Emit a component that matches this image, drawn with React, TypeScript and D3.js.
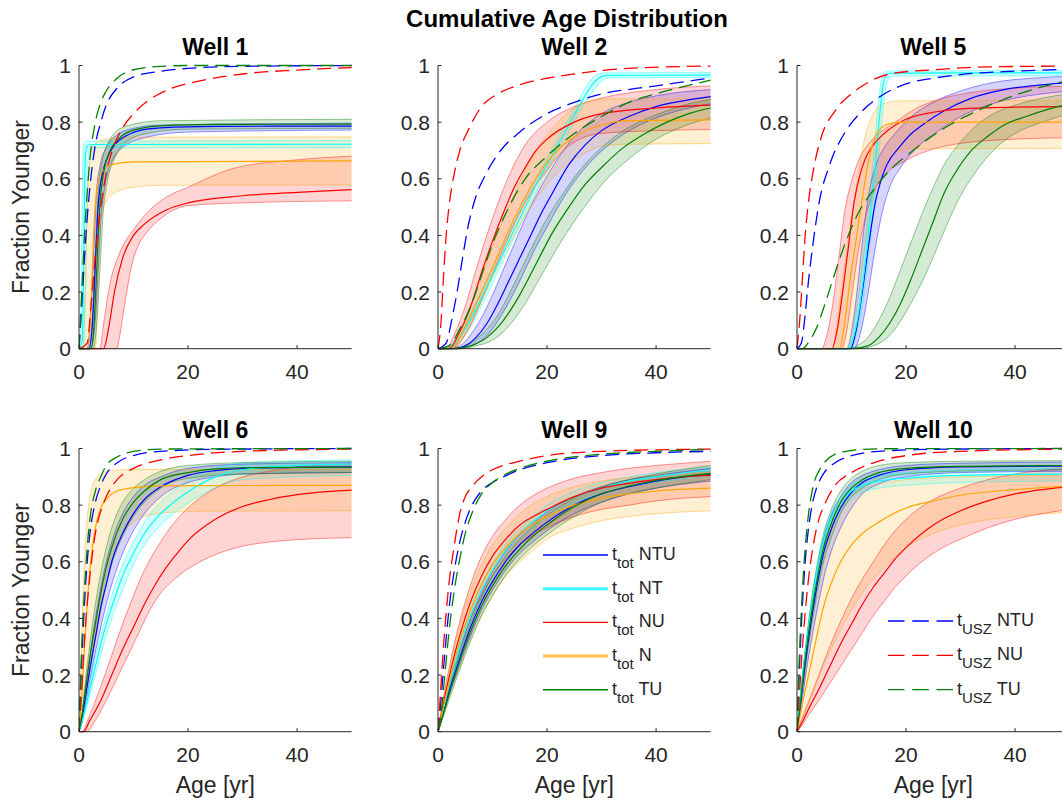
import React from "react";
import * as d3 from "d3";

type Pt = [number, number];
type Band = { mid: Pt[]; lo: Pt[]; hi: Pt[] };

const MAIN_TITLE = "Cumulative Age Distribution";
const WELLS = ["Well 1", "Well 2", "Well 5", "Well 6", "Well 9", "Well 10"];
const AGE_TICKS = [0, 20, 40];
const FRAC_TICKS = [0, 0.2, 0.4, 0.6, 0.8, 1];
const SOLID_NAMES = ["NTU", "NT", "NU", "N", "TU"];
const DASHED_NAMES = ["NTU", "NU", "TU"];
const SOLID_COLORS = ["#0000FF", "#00FFFF", "#FF0000", "#FFA500", "#008000"];
const DASHED_COLORS = ["#0000FF", "#FF0000", "#008000"];

// ---------------- Well 1 ----------------
const W1_NTU: Band = {
  mid: [[0,0],[1.8,0],[2.5,0.1],[3,0.3],[3.5,0.5],[4.2,0.61],[5,0.665],[6.5,0.72],[8.5,0.75],[11,0.77],[15,0.78],[25,0.785],[50,0.786]],
  hi: [[0,0],[1.5,0],[2.1,0.12],[2.7,0.35],[3.2,0.55],[3.9,0.65],[5,0.71],[7,0.755],[10,0.778],[15,0.79],[50,0.796]],
  lo: [[0,0],[2.2,0],[3,0.1],[3.6,0.3],[4.1,0.47],[4.8,0.58],[6,0.66],[8,0.71],[12,0.745],[20,0.765],[50,0.772]],
};
const W1_NT: Band = {
  mid: [[0,0],[0.6,0.03],[0.9,0.35],[1.1,0.65],[1.4,0.712],[2,0.721],[50,0.722]],
  hi: [[0,0],[0.3,0.05],[0.5,0.4],[0.7,0.68],[1.0,0.728],[1.5,0.733],[50,0.735]],
  lo: [[0,0],[1.0,0.02],[1.3,0.3],[1.6,0.62],[1.9,0.7],[2.5,0.709],[50,0.71]],
};
const W1_NU: Band = {
  mid: [[0,0],[4.5,0],[5.5,0.08],[6.5,0.2],[8,0.32],[10,0.4],[12,0.44],[16,0.49],[20,0.515],[30,0.54],[40,0.552],[50,0.562]],
  hi: [[0,0],[3.8,0],[4.6,0.1],[5.7,0.23],[7.5,0.34],[10,0.42],[13,0.49],[16,0.535],[20,0.57],[28,0.635],[40,0.667],[50,0.68]],
  lo: [[0,0],[6.9,0],[7.6,0.06],[8.5,0.17],[9.5,0.28],[11,0.37],[12,0.4],[15,0.46],[20,0.505],[30,0.515],[50,0.522]],
};
const W1_N: Band = {
  mid: [[0,0],[1.7,0],[2.2,0.15],[2.8,0.45],[3.4,0.58],[4.2,0.625],[6,0.65],[10,0.66],[50,0.663]],
  hi: [[0,0],[0.7,0],[1.1,0.2],[1.6,0.55],[2.2,0.69],[3,0.725],[5,0.74],[10,0.747],[50,0.748]],
  lo: [[0,0],[3,0],[3.5,0.2],[4,0.45],[5,0.52],[7,0.555],[10,0.57],[15,0.577],[50,0.578]],
};
const W1_TU: Band = {
  mid: [[0,0],[2.2,0],[2.8,0.1],[3.3,0.3],[3.8,0.5],[4.5,0.62],[5.5,0.69],[7.5,0.745],[10,0.772],[15,0.787],[25,0.792],[50,0.793]],
  hi: [[0,0],[1.9,0],[2.5,0.12],[3,0.35],[3.5,0.55],[4.2,0.66],[5.2,0.72],[7,0.77],[10,0.793],[15,0.805],[50,0.81]],
  lo: [[0,0],[2.6,0],[3.3,0.1],[3.9,0.3],[4.4,0.47],[5.2,0.59],[6.5,0.67],[9,0.735],[13,0.762],[20,0.775],[50,0.778]],
};
const W1_USZ_NTU: Pt[] = [[0,0],[0.5,0.15],[1,0.32],[1.5,0.46],[2,0.57],[3,0.72],[4,0.8],[5,0.86],[7,0.92],[10,0.96],[15,0.98],[20,0.99],[30,0.997],[50,1]];
const W1_USZ_NU: Pt[] = [[0,0],[1.5,0.02],[2.2,0.15],[3,0.33],[4,0.5],[5,0.62],[6.5,0.72],[8,0.78],[10,0.83],[13,0.88],[17,0.92],[22,0.945],[30,0.97],[40,0.984],[50,0.993]];
const W1_USZ_TU: Pt[] = [[0,0],[0.5,0.2],[1,0.4],[1.5,0.55],[2,0.67],[3,0.8],[4,0.87],[5,0.91],[7,0.955],[10,0.985],[15,0.997],[20,1],[50,1]];

// ---------------- Well 2 ----------------
const W2_NTU: Band = {
  mid: [[0,0],[3,0],[5,0.01],[7,0.04],[9,0.09],[11,0.16],[13,0.24],[15,0.32],[17,0.4],[19,0.48],[21,0.55],[24,0.65],[27,0.72],[30,0.77],[35,0.82],[40,0.855],[45,0.875],[50,0.89]],
  hi: [[0,0],[2,0],[4,0.01],[6,0.05],[8,0.11],[10,0.19],[12,0.28],[14,0.37],[16,0.46],[18,0.54],[20,0.61],[23,0.7],[26,0.77],[30,0.83],[35,0.87],[40,0.893],[50,0.915]],
  lo: [[0,0],[4,0],[6,0.01],[8,0.03],[10,0.07],[12,0.13],[14,0.2],[16,0.28],[18,0.36],[20,0.43],[22,0.5],[25,0.59],[28,0.66],[32,0.73],[36,0.78],[40,0.815],[45,0.845],[50,0.865]],
};
const W2_NT: Band = {
  mid: [[0,0],[2,0],[4,0.04],[7,0.14],[10,0.26],[13,0.38],[16,0.5],[18,0.58],[20,0.65],[22,0.72],[24,0.79],[26,0.86],[28,0.925],[29.7,0.958],[31,0.965],[50,0.966]],
  hi: [[0,0],[1.5,0],[3.3,0.04],[6.3,0.14],[9.3,0.26],[12.3,0.38],[15.3,0.5],[17.3,0.58],[19.3,0.65],[21.3,0.72],[23.3,0.79],[25.3,0.86],[27.3,0.93],[29,0.966],[30.3,0.974],[50,0.975]],
  lo: [[0,0],[2.5,0],[4.7,0.04],[7.7,0.14],[10.7,0.26],[13.7,0.38],[16.7,0.5],[18.7,0.58],[20.7,0.65],[22.7,0.72],[24.7,0.79],[26.7,0.86],[28.7,0.915],[30.4,0.95],[31.7,0.957],[50,0.958]],
};
const W2_NU: Band = {
  mid: [[0,0],[2,0],[4,0.06],[6,0.15],[8,0.27],[10,0.38],[12,0.48],[14,0.57],[16,0.64],[18,0.7],[20,0.74],[25,0.8],[30,0.83],[40,0.85],[50,0.86]],
  hi: [[0,0],[1.5,0],[3,0.05],[5,0.15],[7,0.28],[10,0.46],[13,0.61],[16,0.72],[20,0.8],[25,0.855],[30,0.885],[40,0.915],[50,0.928]],
  lo: [[0,0],[2.5,0],[5,0.05],[8,0.17],[11,0.31],[14,0.44],[17,0.55],[20,0.63],[23,0.7],[26,0.74],[30,0.76],[40,0.77],[50,0.774]],
};
const W2_N: Band = {
  mid: [[0,0],[2.5,0],[5,0.08],[8,0.2],[11,0.33],[14,0.46],[17,0.57],[20,0.66],[23,0.72],[26,0.76],[30,0.79],[35,0.805],[50,0.808]],
  hi: [[0,0],[2,0],[4,0.06],[7,0.2],[10,0.36],[13,0.5],[16,0.63],[19,0.73],[22,0.8],[25,0.85],[28,0.875],[32,0.882],[50,0.883]],
  lo: [[0,0],[3,0],[5,0.05],[8,0.17],[11,0.29],[14,0.4],[17,0.5],[20,0.58],[23,0.64],[26,0.68],[30,0.715],[35,0.722],[50,0.724]],
};
const W2_TU: Band = {
  mid: [[0,0],[3,0],[6,0.01],[9,0.04],[12,0.1],[15,0.19],[18,0.3],[21,0.41],[24,0.5],[27,0.58],[30,0.64],[34,0.71],[38,0.76],[42,0.8],[46,0.83],[50,0.85]],
  hi: [[0,0],[2,0],[5,0.01],[8,0.05],[11,0.12],[14,0.23],[17,0.35],[20,0.46],[23,0.55],[26,0.63],[30,0.71],[34,0.77],[38,0.81],[42,0.84],[46,0.865],[50,0.88]],
  lo: [[0,0],[4,0],[7,0.01],[10,0.03],[13,0.08],[16,0.16],[19,0.26],[22,0.36],[25,0.45],[28,0.53],[31,0.6],[35,0.67],[40,0.74],[45,0.785],[50,0.815]],
};
const W2_USZ_NTU: Pt[] = [[0,0],[1.5,0.02],[2.5,0.1],[3.5,0.2],[4.5,0.32],[5.5,0.43],[7,0.54],[8.6,0.61],[11.5,0.7],[15,0.765],[20,0.83],[25,0.87],[30,0.9],[36,0.918],[40,0.928],[45,0.942],[50,0.956]];
const W2_USZ_NU: Pt[] = [[0,0],[0.5,0.08],[1,0.25],[1.5,0.4],[2,0.5],[3,0.62],[4,0.7],[5.5,0.77],[8,0.855],[11,0.9],[15,0.932],[20,0.955],[25,0.97],[35,0.99],[50,0.998]];
const W2_USZ_TU: Pt[] = [[0,0],[2,0.01],[4,0.07],[6,0.15],[8,0.26],[10,0.37],[13,0.5],[16,0.6],[20,0.68],[25,0.76],[30,0.82],[35,0.87],[40,0.9],[50,0.948]];

// ---------------- Well 5 ----------------
const W5_NTU: Band = {
  mid: [[0,0],[9.8,0],[10.8,0.06],[11.9,0.19],[13.1,0.36],[14.4,0.52],[15.5,0.6],[16.5,0.65],[18.7,0.71],[21,0.76],[23,0.79],[27,0.84],[32,0.885],[38,0.915],[44,0.93],[50,0.94]],
  hi: [[0,0],[9.2,0],[10,0.06],[11,0.2],[12,0.38],[13.2,0.55],[14.5,0.65],[16,0.71],[18,0.76],[21,0.82],[25,0.87],[30,0.91],[36,0.94],[43,0.955],[50,0.962]],
  lo: [[0,0],[10.5,0],[11.7,0.06],[13,0.19],[14.3,0.35],[15.5,0.47],[17,0.57],[19,0.64],[22,0.71],[26,0.77],[30,0.82],[35,0.86],[40,0.885],[45,0.9],[50,0.91]],
};
const W5_NT: Band = {
  mid: [[0,0],[9.5,0],[10.5,0.05],[11.5,0.15],[12.5,0.3],[13.5,0.48],[14.5,0.68],[15.3,0.85],[16,0.95],[16.7,0.971],[17.5,0.973],[50,0.974]],
  hi: [[0,0],[9.1,0],[10.1,0.05],[11.1,0.16],[12.1,0.31],[13.1,0.5],[14.1,0.7],[14.9,0.87],[15.6,0.96],[16.3,0.979],[17,0.981],[50,0.982]],
  lo: [[0,0],[9.9,0],[10.9,0.05],[11.9,0.14],[12.9,0.29],[13.9,0.46],[14.9,0.66],[15.7,0.83],[16.4,0.93],[17.1,0.96],[18,0.963],[50,0.964]],
};
const W5_NU: Band = {
  mid: [[0,0],[6.4,0],[7.5,0.08],[8.5,0.22],[9.5,0.37],[10.5,0.52],[11.5,0.61],[12.5,0.67],[14,0.72],[16,0.76],[20,0.81],[25,0.835],[30,0.847],[40,0.853],[50,0.855]],
  hi: [[0,0],[4.5,0],[5.5,0.05],[6.5,0.15],[7.6,0.31],[8.8,0.49],[10,0.59],[11,0.65],[13,0.72],[15,0.76],[18,0.8],[22,0.85],[26,0.88],[32,0.905],[40,0.92],[50,0.927]],
  lo: [[0,0],[8.2,0],[9,0.05],[10,0.18],[11.3,0.35],[12.5,0.46],[14,0.55],[16,0.61],[20,0.665],[25,0.705],[30,0.725],[40,0.74],[50,0.745]],
};
const W5_N: Band = {
  mid: [[0,0],[7.8,0],[8.8,0.1],[9.8,0.25],[10.8,0.38],[11.9,0.52],[13,0.65],[14,0.73],[15,0.77],[17,0.795],[20,0.8],[50,0.8]],
  hi: [[0,0],[6.4,0],[7.4,0.1],[8.8,0.31],[9.8,0.44],[10.7,0.55],[11.6,0.66],[12.5,0.75],[13.5,0.81],[14.5,0.845],[16,0.865],[18,0.875],[50,0.877]],
  lo: [[0,0],[9,0],[10,0.05],[11,0.15],[12,0.3],[13,0.43],[14,0.53],[15.5,0.63],[17,0.675],[19,0.7],[22,0.706],[50,0.707]],
};
const W5_TU: Band = {
  mid: [[0,0],[10,0],[13,0.01],[15,0.04],[17,0.09],[19,0.16],[21,0.25],[23,0.35],[25,0.45],[27,0.55],[29,0.62],[32,0.7],[35,0.75],[38,0.79],[42,0.82],[46,0.845],[50,0.865]],
  hi: [[0,0],[9,0],[11,0.01],[13,0.04],[15,0.1],[17,0.18],[19,0.28],[21,0.38],[23,0.48],[25,0.57],[27,0.65],[30,0.73],[33,0.79],[36,0.83],[40,0.86],[45,0.885],[50,0.9]],
  lo: [[0,0],[11,0],[14,0.01],[16,0.03],[18,0.07],[20,0.13],[22,0.2],[24,0.28],[26,0.37],[28,0.46],[30,0.54],[33,0.63],[36,0.7],[40,0.76],[45,0.8],[50,0.83]],
};
const W5_USZ_NTU: Pt[] = [[0,0],[0.8,0.02],[1.5,0.12],[2,0.22],[3,0.38],[4,0.51],[6,0.65],[9,0.77],[12,0.84],[15.6,0.895],[20,0.935],[25,0.955],[30,0.968],[40,0.98],[50,0.987]];
const W5_USZ_NU: Pt[] = [[0,0],[0.5,0.1],[1,0.25],[1.5,0.4],[2,0.5],[3,0.63],[4.5,0.75],[7,0.84],[10,0.9],[13,0.94],[17,0.97],[25,0.985],[35,0.995],[50,0.998]];
const W5_USZ_TU: Pt[] = [[0,0],[1,0],[2,0.02],[3.5,0.07],[5,0.15],[7,0.27],[9,0.38],[11,0.47],[14,0.56],[17,0.63],[20,0.68],[24,0.74],[28,0.79],[32,0.83],[36,0.865],[40,0.895],[45,0.925],[50,0.948]];

// ---------------- Well 6 ----------------
const W6_NTU: Band = {
  mid: [[0,0],[0.5,0.04],[1,0.1],[2,0.22],[3,0.33],[4,0.44],[5,0.52],[6,0.6],[8,0.7],[10,0.77],[12,0.82],[15,0.865],[20,0.905],[25,0.922],[30,0.93],[50,0.935]],
  hi: [[0,0],[0.5,0.05],[1,0.13],[2,0.27],[3,0.4],[4,0.51],[5,0.6],[6,0.67],[8,0.77],[10,0.83],[12,0.87],[15,0.9],[20,0.93],[30,0.945],[50,0.95]],
  lo: [[0,0],[0.5,0.03],[1,0.08],[2,0.18],[3,0.28],[4,0.37],[5,0.45],[6,0.52],[8,0.63],[10,0.71],[12,0.77],[15,0.83],[20,0.88],[25,0.9],[30,0.91],[50,0.915]],
};
const W6_NT: Band = {
  mid: [[0,0],[0.5,0.03],[1,0.07],[2,0.15],[3,0.23],[4,0.31],[5,0.38],[6,0.44],[8,0.55],[10,0.63],[12,0.7],[15,0.77],[18,0.82],[21,0.86],[25,0.9],[30,0.925],[40,0.94],[50,0.945]],
  hi: [[0,0],[1,0.08],[2,0.17],[3,0.26],[4,0.34],[5,0.41],[6,0.48],[8,0.59],[10,0.67],[12,0.74],[15,0.81],[18,0.86],[21,0.9],[25,0.93],[30,0.95],[50,0.96]],
  lo: [[0,0],[1,0.06],[2,0.13],[3,0.2],[4,0.27],[5,0.34],[6,0.4],[8,0.5],[10,0.59],[12,0.66],[15,0.73],[18,0.78],[21,0.82],[25,0.86],[30,0.89],[50,0.905]],
};
const W6_NU: Band = {
  mid: [[0,0],[0.8,0],[2,0.04],[4,0.11],[6,0.2],[8,0.29],[10,0.37],[12,0.45],[14,0.52],[16,0.58],[18,0.63],[20,0.675],[25,0.75],[30,0.795],[35,0.82],[40,0.837],[50,0.853]],
  hi: [[0,0],[0.5,0],[2,0.06],[4,0.16],[6,0.27],[8,0.38],[10,0.48],[12,0.57],[14,0.64],[16,0.7],[18,0.75],[20,0.79],[25,0.86],[30,0.9],[35,0.92],[40,0.935],[50,0.945]],
  lo: [[0,0],[1.4,0],[3,0.04],[5,0.11],[7,0.19],[9,0.27],[11,0.35],[13,0.43],[15,0.49],[17,0.53],[20,0.575],[25,0.625],[30,0.655],[35,0.67],[40,0.678],[50,0.685]],
};
const W6_N: Band = {
  mid: [[0,0],[0.5,0.12],[1,0.3],[1.5,0.45],[2,0.57],[3,0.72],[4,0.79],[5,0.82],[7,0.85],[10,0.862],[15,0.868],[50,0.87]],
  hi: [[0,0],[0.3,0.2],[0.6,0.4],[1,0.6],[1.5,0.75],[2,0.83],[3,0.89],[4,0.91],[6,0.922],[10,0.926],[50,0.927]],
  lo: [[0,0],[0.5,0.04],[1,0.1],[2,0.22],[3,0.35],[4,0.46],[5,0.55],[6,0.62],[8,0.7],[10,0.74],[13,0.765],[17,0.775],[25,0.779],[50,0.78]],
};
const W6_TU: Band = {
  mid: [[0,0],[0.5,0.05],[1,0.12],[2,0.26],[3,0.38],[4,0.49],[5,0.58],[6,0.65],[8,0.75],[10,0.81],[12,0.85],[15,0.89],[20,0.915],[25,0.928],[30,0.932],[50,0.934]],
  hi: [[0,0],[0.5,0.06],[1,0.15],[2,0.31],[3,0.45],[4,0.56],[5,0.65],[6,0.72],[8,0.81],[10,0.86],[12,0.89],[15,0.92],[20,0.94],[30,0.95],[50,0.955]],
  lo: [[0,0],[0.5,0.04],[1,0.1],[2,0.22],[3,0.33],[4,0.43],[5,0.52],[6,0.59],[8,0.69],[10,0.76],[12,0.81],[15,0.86],[20,0.895],[30,0.91],[50,0.915]],
};
const W6_USZ_NTU: Pt[] = [[0,0],[0.5,0.25],[1,0.45],[1.5,0.6],[2,0.7],[3,0.81],[4,0.87],[5,0.91],[7,0.95],[10,0.975],[15,0.99],[25,0.997],[50,1]];
const W6_USZ_NU: Pt[] = [[0,0],[0.5,0.15],[1,0.32],[1.5,0.45],[2,0.55],[3,0.7],[4,0.78],[5,0.83],[7,0.89],[10,0.93],[15,0.96],[20,0.975],[30,0.99],[50,0.998]];
const W6_USZ_TU: Pt[] = [[0,0],[0.5,0.3],[1,0.5],[1.5,0.65],[2,0.75],[3,0.85],[4,0.9],[5,0.94],[7,0.97],[10,0.99],[15,0.998],[50,1]];

// ---------------- Well 9 ----------------
const W9_NTU: Band = {
  mid: [[0,0],[1,0.07],[2,0.14],[3,0.2],[4,0.26],[6,0.37],[8,0.46],[10,0.53],[12,0.59],[15,0.66],[18,0.71],[20,0.74],[25,0.8],[30,0.84],[35,0.865],[40,0.885],[50,0.91]],
  hi: [[0,0],[1,0.08],[2,0.155],[3,0.22],[4,0.285],[6,0.4],[8,0.49],[10,0.565],[12,0.625],[15,0.695],[18,0.745],[20,0.775],[25,0.83],[30,0.865],[35,0.89],[40,0.905],[50,0.93]],
  lo: [[0,0],[1,0.06],[2,0.125],[3,0.18],[4,0.235],[6,0.34],[8,0.43],[10,0.5],[12,0.56],[15,0.63],[18,0.68],[20,0.71],[25,0.77],[30,0.81],[35,0.84],[40,0.86],[50,0.885]],
};
const W9_NT: Band = {
  mid: [[0,0],[1,0.08],[2,0.16],[3,0.23],[4,0.3],[6,0.41],[8,0.5],[10,0.57],[12,0.63],[15,0.7],[18,0.75],[20,0.78],[25,0.83],[30,0.86],[35,0.885],[40,0.9],[50,0.925]],
  hi: [[0,0],[1,0.09],[2,0.175],[3,0.25],[4,0.32],[6,0.435],[8,0.525],[10,0.595],[12,0.655],[15,0.72],[18,0.77],[20,0.8],[25,0.85],[30,0.88],[35,0.9],[40,0.915],[50,0.935]],
  lo: [[0,0],[1,0.07],[2,0.145],[3,0.21],[4,0.28],[6,0.385],[8,0.475],[10,0.545],[12,0.605],[15,0.68],[18,0.73],[20,0.76],[25,0.81],[30,0.84],[35,0.865],[40,0.88],[50,0.905]],
};
const W9_NU: Band = {
  mid: [[0,0],[1,0.1],[2,0.19],[3,0.27],[4,0.34],[6,0.46],[8,0.55],[10,0.62],[12,0.67],[15,0.73],[18,0.765],[20,0.785],[25,0.83],[30,0.86],[35,0.877],[40,0.89],[45,0.9],[50,0.905]],
  hi: [[0,0],[1,0.12],[2,0.22],[3,0.31],[4,0.39],[6,0.52],[8,0.62],[10,0.69],[12,0.74],[15,0.8],[18,0.84],[20,0.86],[25,0.895],[30,0.915],[35,0.93],[40,0.94],[50,0.955]],
  lo: [[0,0],[1,0.08],[2,0.16],[3,0.23],[4,0.29],[6,0.4],[8,0.48],[10,0.55],[12,0.6],[15,0.66],[18,0.7],[20,0.72],[25,0.76],[30,0.785],[35,0.8],[40,0.815],[50,0.83]],
};
const W9_N: Band = {
  mid: [[0,0],[1,0.09],[2,0.17],[3,0.25],[4,0.32],[6,0.43],[8,0.52],[10,0.59],[12,0.64],[15,0.7],[18,0.74],[20,0.76],[25,0.8],[30,0.825],[35,0.84],[40,0.85],[50,0.86]],
  hi: [[0,0],[1,0.12],[2,0.22],[3,0.31],[4,0.38],[6,0.5],[8,0.59],[10,0.66],[12,0.71],[15,0.77],[18,0.81],[20,0.83],[25,0.865],[30,0.885],[40,0.905],[50,0.915]],
  lo: [[0,0],[1,0.06],[2,0.12],[3,0.18],[4,0.23],[6,0.33],[8,0.41],[10,0.48],[12,0.54],[15,0.6],[18,0.65],[20,0.68],[25,0.72],[30,0.745],[35,0.76],[40,0.77],[50,0.78]],
};
const W9_TU: Band = {
  mid: [[0,0],[1,0.065],[2,0.13],[3,0.19],[4,0.25],[6,0.355],[8,0.445],[10,0.515],[12,0.575],[15,0.645],[18,0.7],[20,0.73],[25,0.795],[30,0.84],[35,0.867],[40,0.887],[50,0.912]],
  hi: [[0,0],[1,0.075],[2,0.15],[3,0.215],[4,0.275],[6,0.385],[8,0.475],[10,0.55],[12,0.61],[15,0.68],[18,0.735],[20,0.765],[25,0.825],[30,0.865],[35,0.89],[40,0.91],[50,0.94]],
  lo: [[0,0],[1,0.055],[2,0.11],[3,0.165],[4,0.22],[6,0.32],[8,0.41],[10,0.48],[12,0.54],[15,0.61],[18,0.665],[20,0.695],[25,0.76],[30,0.81],[35,0.84],[40,0.86],[50,0.89]],
};
const W9_USZ_NTU: Pt[] = [[0,0],[0.5,0.1],[1,0.22],[1.5,0.33],[2,0.43],[3,0.57],[4,0.67],[5,0.74],[6,0.79],[8,0.85],[10,0.88],[12,0.9],[15,0.925],[20,0.95],[30,0.975],[40,0.985],[50,0.99]];
const W9_USZ_NU: Pt[] = [[0,0],[0.5,0.15],[1,0.3],[1.5,0.42],[2,0.52],[3,0.66],[4,0.77],[5,0.83],[6,0.86],[8,0.9],[10,0.925],[15,0.955],[20,0.975],[30,0.99],[50,0.998]];
const W9_USZ_TU: Pt[] = [[0,0],[0.5,0.05],[1,0.15],[1.5,0.25],[2,0.35],[3,0.5],[4,0.61],[5,0.7],[6,0.76],[8,0.84],[10,0.88],[12,0.905],[15,0.93],[20,0.955],[30,0.98],[40,0.99],[50,0.997]];

// ---------------- Well 10 ----------------
const W10_NTU: Band = {
  mid: [[0,0],[0.5,0.075],[1,0.16],[2,0.31],[3,0.44],[4,0.55],[5,0.64],[6,0.7],[8,0.79],[10,0.845],[12,0.88],[15,0.905],[20,0.925],[30,0.935],[50,0.938]],
  hi: [[0,0],[0.5,0.09],[1,0.19],[2,0.35],[3,0.49],[4,0.6],[5,0.69],[6,0.75],[8,0.83],[10,0.88],[12,0.905],[15,0.925],[20,0.94],[30,0.948],[50,0.952]],
  lo: [[0,0],[1,0.12],[2,0.25],[3,0.36],[4,0.46],[5,0.55],[6,0.62],[8,0.72],[10,0.79],[12,0.84],[15,0.875],[20,0.9],[30,0.915],[50,0.92]],
};
const W10_NT: Band = {
  mid: [[0,0],[0.5,0.09],[1,0.19],[2,0.35],[3,0.49],[4,0.6],[5,0.68],[6,0.74],[8,0.81],[10,0.85],[12,0.87],[15,0.885],[20,0.895],[30,0.905],[50,0.91]],
  hi: [[0,0],[0.5,0.1],[1,0.2],[2,0.37],[3,0.51],[4,0.62],[5,0.7],[6,0.76],[8,0.83],[10,0.87],[12,0.89],[15,0.905],[20,0.915],[30,0.925],[50,0.93]],
  lo: [[0,0],[0.5,0.08],[1,0.17],[2,0.32],[3,0.45],[4,0.56],[5,0.64],[6,0.7],[8,0.78],[10,0.82],[12,0.845],[15,0.86],[20,0.87],[30,0.88],[50,0.885]],
};
const W10_NU: Band = {
  mid: [[0,0],[1,0.035],[2,0.075],[4,0.15],[6,0.23],[8,0.31],[10,0.38],[12,0.45],[14,0.51],[16,0.56],[18,0.61],[20,0.65],[25,0.73],[30,0.78],[35,0.815],[40,0.84],[45,0.855],[50,0.865]],
  hi: [[0,0],[1,0.05],[2,0.1],[4,0.2],[6,0.3],[8,0.39],[10,0.47],[12,0.54],[14,0.6],[16,0.66],[18,0.71],[20,0.75],[25,0.82],[30,0.86],[35,0.89],[40,0.91],[50,0.93]],
  lo: [[0,0],[1,0.025],[2,0.055],[4,0.11],[6,0.17],[8,0.23],[10,0.29],[12,0.35],[14,0.41],[16,0.46],[18,0.51],[20,0.55],[25,0.63],[30,0.68],[35,0.72],[40,0.75],[45,0.77],[50,0.785]],
};
const W10_N: Band = {
  mid: [[0,0],[0.5,0.05],[1,0.1],[2,0.19],[3,0.28],[4,0.37],[5,0.45],[6,0.51],[8,0.6],[10,0.66],[12,0.7],[15,0.74],[20,0.79],[25,0.815],[30,0.835],[40,0.855],[50,0.868]],
  hi: [[0,0],[0.5,0.09],[1,0.18],[2,0.33],[3,0.46],[4,0.57],[5,0.65],[6,0.71],[8,0.79],[10,0.83],[12,0.855],[15,0.875],[20,0.89],[30,0.9],[50,0.905]],
  lo: [[0,0],[1,0.04],[2,0.09],[3,0.14],[4,0.19],[5,0.24],[6,0.28],[8,0.36],[10,0.43],[12,0.49],[15,0.56],[20,0.65],[25,0.7],[30,0.73],[40,0.76],[50,0.775]],
};
const W10_TU: Band = {
  mid: [[0,0],[0.5,0.08],[1,0.17],[2,0.33],[3,0.46],[4,0.57],[5,0.66],[6,0.72],[8,0.81],[10,0.86],[12,0.89],[15,0.915],[20,0.93],[30,0.937],[50,0.94]],
  hi: [[0,0],[0.5,0.1],[1,0.2],[2,0.37],[3,0.51],[4,0.62],[5,0.71],[6,0.77],[8,0.85],[10,0.895],[12,0.92],[15,0.94],[20,0.95],[30,0.955],[50,0.957]],
  lo: [[0,0],[0.5,0.07],[1,0.14],[2,0.29],[3,0.41],[4,0.52],[5,0.61],[6,0.67],[8,0.77],[10,0.83],[12,0.86],[15,0.89],[20,0.91],[30,0.92],[50,0.925]],
};
const W10_USZ_NTU: Pt[] = [[0,0],[0.5,0.25],[1,0.45],[1.5,0.6],[2,0.7],[3,0.82],[4,0.88],[5,0.915],[7,0.95],[10,0.975],[15,0.99],[25,0.997],[50,1]];
const W10_USZ_NU: Pt[] = [[0,0],[0.5,0.15],[1,0.3],[1.5,0.42],[2,0.52],[3,0.66],[4,0.75],[5,0.8],[7,0.87],[10,0.915],[15,0.955],[20,0.975],[30,0.99],[50,0.998]];
const W10_USZ_TU: Pt[] = [[0,0],[0.5,0.3],[1,0.5],[1.5,0.65],[2,0.75],[3,0.87],[4,0.92],[5,0.95],[7,0.98],[10,0.993],[15,0.999],[50,1]];

const SOLID_BY_WELL: Band[][] = [
  [W1_NTU, W1_NT, W1_NU, W1_N, W1_TU],
  [W2_NTU, W2_NT, W2_NU, W2_N, W2_TU],
  [W5_NTU, W5_NT, W5_NU, W5_N, W5_TU],
  [W6_NTU, W6_NT, W6_NU, W6_N, W6_TU],
  [W9_NTU, W9_NT, W9_NU, W9_N, W9_TU],
  [W10_NTU, W10_NT, W10_NU, W10_N, W10_TU],
];
const DASHED_BY_WELL: Pt[][][] = [
  [W1_USZ_NTU, W1_USZ_NU, W1_USZ_TU],
  [W2_USZ_NTU, W2_USZ_NU, W2_USZ_TU],
  [W5_USZ_NTU, W5_USZ_NU, W5_USZ_TU],
  [W6_USZ_NTU, W6_USZ_NU, W6_USZ_TU],
  [W9_USZ_NTU, W9_USZ_NU, W9_USZ_TU],
  [W10_USZ_NTU, W10_USZ_NU, W10_USZ_TU],
];

const FONT = "'Liberation Sans', Arial, Helvetica, sans-serif";
const AX = "#262626";
const COL_X = [79, 438, 797];
const ROW_Y = [65.5, 448.5];
const PW = 272.6;
const PH = 283.2;
const DASH = "14,7";

export default function App() {
  const x = d3.scaleLinear().domain([0, 50]).range([0, PW]);
  const y = d3.scaleLinear().domain([0, 1]).range([PH, 0]);
  const line = d3
    .line<Pt>()
    .x((d) => x(d[0]))
    .y((d) => y(d[1]))
    .curve(d3.curveMonotoneX);
  const bandPath = (b: Band) => {
    const top = line(b.hi) || "";
    const bot = (line(b.lo.slice().reverse()) || "").replace(/^M/, "L");
    return top + bot + "Z";
  };

  const panels = WELLS.map((title, i) => {
    const col = i % 3;
    const row = Math.floor(i / 3);
    const ox = COL_X[col];
    const oy = ROW_Y[row];
    const solids = SOLID_BY_WELL[i];
    const dashed = DASHED_BY_WELL[i];
    return (
      <g key={title} transform={`translate(${ox},${oy})`}>
        <defs>
          <clipPath id={`clip${i}`}>
            <rect x={0} y={-3} width={PW + 1} height={PH + 4} />
          </clipPath>
        </defs>
        <g clipPath={`url(#clip${i})`}>
          {solids.map((b, k) => (
            <path key={"f" + k} d={bandPath(b)} fill={SOLID_COLORS[k]} fillOpacity={0.17} stroke="none" />
          ))}
          {solids.map((b, k) => (
            <g key={"e" + k} fill="none" stroke={SOLID_COLORS[k]} strokeOpacity={0.42} strokeWidth={1}>
              <path d={line(b.hi) || ""} />
              <path d={line(b.lo) || ""} />
            </g>
          ))}
          {solids.map((b, k) => (
            <path key={"m" + k} d={line(b.mid) || ""} fill="none" stroke={SOLID_COLORS[k]} strokeWidth={1.2} />
          ))}
          {dashed.map((pts, k) => (
            <path key={"d" + k} d={line(pts) || ""} fill="none" stroke={DASHED_COLORS[k]} strokeWidth={1.3} strokeDasharray={DASH} />
          ))}
        </g>
        <line x1={0} y1={0} x2={0} y2={PH} stroke={AX} strokeWidth={1} />
        <line x1={0} y1={PH} x2={PW} y2={PH} stroke={AX} strokeWidth={1} />
        {FRAC_TICKS.map((t) => (
          <g key={"yt" + t}>
            <line x1={0} x2={3.5} y1={y(t)} y2={y(t)} stroke={AX} />
            <text x={-8} y={y(t)} dy="0.36em" textAnchor="end" fontSize={21} fill={AX} fontFamily={FONT}>
              {String(t)}
            </text>
          </g>
        ))}
        {AGE_TICKS.map((t) => (
          <g key={"xt" + t}>
            <line x1={x(t)} x2={x(t)} y1={PH} y2={PH - 3.5} stroke={AX} />
            <text x={x(t)} y={PH + 30} textAnchor="middle" fontSize={21} fill={AX} fontFamily={FONT}>
              {String(t)}
            </text>
          </g>
        ))}
        <text x={PW / 2} y={-10.5} textAnchor="middle" fontSize={23} fontWeight="bold" fill="#000" fontFamily={FONT}>
          {title}
        </text>
        {col === 0 && (
          <text
            transform={`translate(${29 - ox},${PH / 2}) rotate(-90)`}
            textAnchor="middle"
            fontSize={23}
            fill={AX}
            fontFamily={FONT}
          >
            Fraction Younger
          </text>
        )}
        {row === 1 && (
          <text x={PW / 2} y={793 - oy} textAnchor="middle" fontSize={23} fill={AX} fontFamily={FONT}>
            Age [yr]
          </text>
        )}
      </g>
    );
  });

  const solidLegendW = [1.5, 3, 1.3, 3, 1.5];
  const solidLegendOp = [1, 0.75, 1, 0.7, 1];
  const legend1 = SOLID_NAMES.map((name, k) => {
    const ly = 555 + k * 33.7;
    return (
      <g key={"l1" + name}>
        <line x1={543} x2={608} y1={ly} y2={ly} stroke={SOLID_COLORS[k]} strokeWidth={solidLegendW[k]} strokeOpacity={solidLegendOp[k]} />
        <text x={612} y={ly + 5} fontSize={18} fill={AX} fontFamily={FONT}>
          <tspan>t</tspan>
          <tspan dy={8} fontSize={15}>tot</tspan>
          <tspan dy={-8}>{" " + name}</tspan>
        </text>
      </g>
    );
  });
  const legend2 = DASHED_NAMES.map((name, k) => {
    const ly = 621 + k * 34.3;
    return (
      <g key={"l2" + name}>
        <line x1={888} x2={953} y1={ly} y2={ly} stroke={DASHED_COLORS[k]} strokeWidth={1.3} strokeDasharray="16.5,7.75" />
        <text x={957} y={ly + 5} fontSize={18} fill={AX} fontFamily={FONT}>
          <tspan>t</tspan>
          <tspan dy={8} fontSize={15}>USZ</tspan>
          <tspan dy={-8}>{" " + name}</tspan>
        </text>
      </g>
    );
  });

  return (
    <svg
      width={1062}
      height={800}
      viewBox="0 0 1062 800"
      style={{ position: "absolute", left: 0, top: 0, background: "#fff" }}
    >
      <rect x={0} y={0} width={1062} height={800} fill="#fff" />
      <text x={567} y={26.5} textAnchor="middle" fontSize={24} fontWeight="bold" fill="#000" fontFamily={FONT}>
        {MAIN_TITLE}
      </text>
      {panels}
      {legend1}
      {legend2}
    </svg>
  );
}
